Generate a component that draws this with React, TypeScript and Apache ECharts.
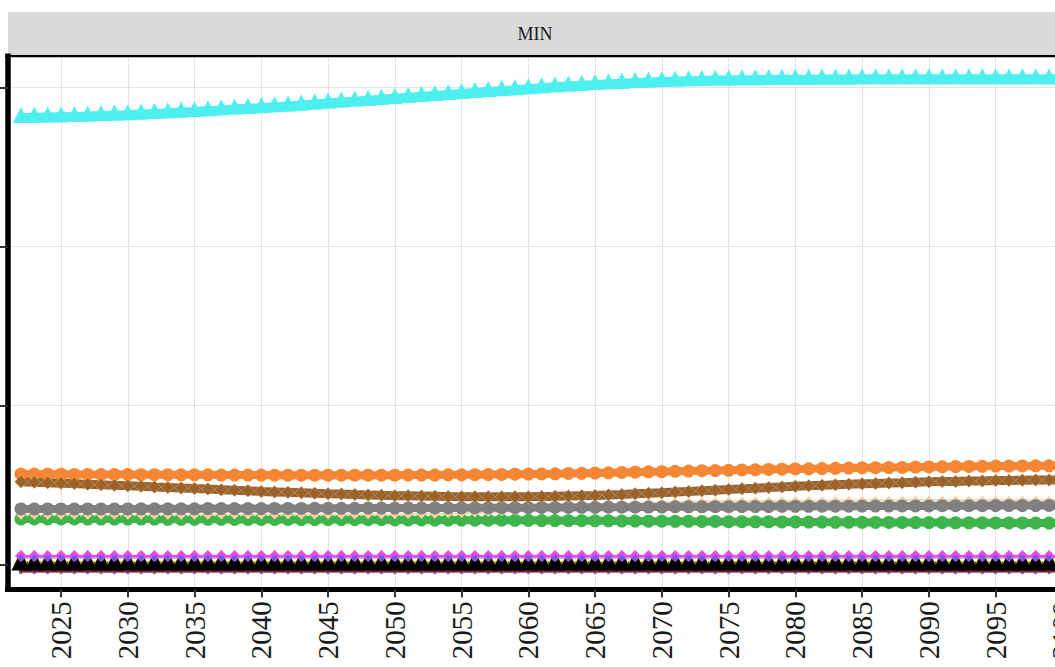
import React, { useEffect, useRef } from "react";
import * as echarts from "echarts";

const years = [
  2022, 2023, 2024, 2025, 2026, 2027, 2028, 2029, 2030, 2031,
  2032, 2033, 2034, 2035, 2036, 2037, 2038, 2039, 2040, 2041,
  2042, 2043, 2044, 2045, 2046, 2047, 2048, 2049, 2050, 2051,
  2052, 2053, 2054, 2055, 2056, 2057, 2058, 2059, 2060, 2061,
  2062, 2063, 2064, 2065, 2066, 2067, 2068, 2069, 2070, 2071,
  2072, 2073, 2074, 2075, 2076, 2077, 2078, 2079, 2080, 2081,
  2082, 2083, 2084, 2085, 2086, 2087, 2088, 2089, 2090, 2091,
  2092, 2093, 2094, 2095, 2096, 2097, 2098, 2099, 2100,
];

const xTicks = [2025, 2030, 2035, 2040, 2045, 2050, 2055, 2060, 2065, 2070, 2075, 2080, 2085, 2090, 2095, 2100];
const yTicks = [0, 10, 20, 30];
const stripLabel = "MIN";

const cyan = [
  28.07, 28.08, 28.10, 28.12, 28.14, 28.16, 28.19, 28.22, 28.25, 28.29,
  28.33, 28.37, 28.41, 28.45, 28.50, 28.55, 28.60, 28.65, 28.70, 28.75,
  28.80, 28.86, 28.92, 28.98, 29.04, 29.10, 29.16, 29.22, 29.28, 29.34,
  29.40, 29.46, 29.52, 29.58, 29.64, 29.70, 29.76, 29.82, 29.88, 29.94,
  30.00, 30.05, 30.10, 30.15, 30.19, 30.23, 30.27, 30.30, 30.33, 30.36,
  30.38, 30.40, 30.42, 30.43, 30.44, 30.45, 30.46, 30.47, 30.48, 30.48,
  30.49, 30.49, 30.49, 30.50, 30.50, 30.50, 30.50, 30.50, 30.50, 30.50,
  30.50, 30.50, 30.50, 30.50, 30.50, 30.50, 30.50, 30.50, 30.50,
];

const orange = [
  5.69, 5.69, 5.68, 5.68, 5.67, 5.67, 5.66, 5.66, 5.66, 5.65,
  5.65, 5.65, 5.64, 5.64, 5.64, 5.63, 5.63, 5.63, 5.63, 5.62,
  5.62, 5.62, 5.62, 5.62, 5.62, 5.62, 5.62, 5.62, 5.62, 5.63,
  5.63, 5.63, 5.64, 5.64, 5.65, 5.66, 5.67, 5.68, 5.69, 5.70,
  5.71, 5.73, 5.74, 5.75, 5.77, 5.79, 5.81, 5.83, 5.84, 5.86,
  5.88, 5.90, 5.91, 5.93, 5.95, 5.96, 5.98, 6.00, 6.01, 6.02,
  6.04, 6.05, 6.07, 6.08, 6.09, 6.10, 6.11, 6.13, 6.14, 6.15,
  6.16, 6.17, 6.18, 6.19, 6.19, 6.20, 6.21, 6.21, 6.22,
];

const brown = [
  5.21, 5.18, 5.15, 5.12, 5.09, 5.05, 5.02, 4.98, 4.95, 4.92,
  4.88, 4.85, 4.82, 4.78, 4.75, 4.71, 4.67, 4.64, 4.60, 4.57,
  4.54, 4.51, 4.48, 4.45, 4.43, 4.40, 4.38, 4.36, 4.33, 4.32,
  4.31, 4.30, 4.28, 4.27, 4.27, 4.26, 4.26, 4.27, 4.27, 4.28,
  4.29, 4.31, 4.33, 4.35, 4.38, 4.41, 4.45, 4.48, 4.52, 4.56,
  4.60, 4.64, 4.68, 4.72, 4.76, 4.80, 4.84, 4.88, 4.92, 4.95,
  4.98, 5.02, 5.05, 5.08, 5.10, 5.13, 5.15, 5.18, 5.20, 5.22,
  5.23, 5.25, 5.26, 5.28, 5.29, 5.30, 5.31, 5.32, 5.33,
];

const gray = [
  3.50, 3.50, 3.50, 3.50, 3.50, 3.50, 3.50, 3.50, 3.50, 3.51,
  3.51, 3.51, 3.51, 3.51, 3.52, 3.52, 3.52, 3.52, 3.52, 3.53,
  3.53, 3.53, 3.54, 3.54, 3.54, 3.54, 3.55, 3.55, 3.55, 3.56,
  3.56, 3.56, 3.56, 3.57, 3.57, 3.57, 3.58, 3.58, 3.58, 3.59,
  3.59, 3.59, 3.60, 3.60, 3.61, 3.61, 3.61, 3.62, 3.62, 3.63,
  3.63, 3.63, 3.64, 3.64, 3.65, 3.65, 3.65, 3.66, 3.66, 3.66,
  3.67, 3.67, 3.67, 3.68, 3.68, 3.68, 3.69, 3.69, 3.69, 3.70,
  3.70, 3.70, 3.70, 3.71, 3.71, 3.71, 3.71, 3.72, 3.72,
];

const green = [
  2.87, 2.87, 2.87, 2.87, 2.87, 2.86, 2.86, 2.86, 2.86, 2.86,
  2.86, 2.85, 2.85, 2.85, 2.85, 2.85, 2.84, 2.84, 2.84, 2.84,
  2.84, 2.83, 2.83, 2.83, 2.83, 2.82, 2.82, 2.82, 2.81, 2.81,
  2.81, 2.80, 2.80, 2.80, 2.79, 2.79, 2.79, 2.78, 2.78, 2.77,
  2.77, 2.76, 2.76, 2.75, 2.75, 2.74, 2.74, 2.73, 2.73, 2.72,
  2.72, 2.71, 2.71, 2.70, 2.70, 2.69, 2.69, 2.68, 2.68, 2.67,
  2.67, 2.66, 2.66, 2.66, 2.65, 2.65, 2.65, 2.64, 2.64, 2.64,
  2.63, 2.63, 2.63, 2.62, 2.62, 2.62, 2.61, 2.61, 2.61,
];

const peach = [
  3.10, 3.10, 3.10, 3.10, 3.10, 3.10, 3.10, 3.10, 3.10, 3.10,
  3.10, 3.10, 3.10, 3.10, 3.10, 3.11, 3.11, 3.11, 3.11, 3.11,
  3.11, 3.11, 3.12, 3.12, 3.12, 3.12, 3.13, 3.13, 3.14, 3.15,
  3.16, 3.17, 3.19, 3.21, 3.24, 3.28, 3.32, 3.37, 3.43, 3.49,
  3.55, 3.61, 3.67, 3.72, 3.77, 3.81, 3.85, 3.88, 3.91, 3.93,
  3.95, 3.96, 3.97, 3.98, 3.99, 4.00, 4.00, 4.01, 4.01, 4.02,
  4.02, 4.02, 4.03, 4.03, 4.03, 4.03, 4.04, 4.04, 4.04, 4.04,
  4.04, 4.05, 4.05, 4.05, 4.05, 4.05, 4.05, 4.05, 4.05,
];

const magenta = [
  0.54, 0.54, 0.54, 0.54, 0.54, 0.54, 0.54, 0.54, 0.54, 0.54,
  0.54, 0.54, 0.54, 0.54, 0.54, 0.54, 0.54, 0.54, 0.54, 0.54,
  0.54, 0.54, 0.54, 0.54, 0.54, 0.54, 0.54, 0.54, 0.54, 0.54,
  0.54, 0.54, 0.54, 0.54, 0.54, 0.54, 0.54, 0.54, 0.54, 0.54,
  0.54, 0.54, 0.54, 0.54, 0.54, 0.54, 0.54, 0.54, 0.54, 0.54,
  0.54, 0.54, 0.54, 0.54, 0.54, 0.54, 0.54, 0.54, 0.54, 0.54,
  0.54, 0.54, 0.54, 0.54, 0.54, 0.54, 0.54, 0.54, 0.54, 0.54,
  0.54, 0.54, 0.54, 0.54, 0.54, 0.54, 0.54, 0.54, 0.54,
];

const slate = [
  0.42, 0.42, 0.42, 0.42, 0.42, 0.42, 0.42, 0.42, 0.42, 0.42,
  0.42, 0.42, 0.42, 0.42, 0.42, 0.42, 0.42, 0.42, 0.42, 0.42,
  0.42, 0.42, 0.42, 0.42, 0.42, 0.42, 0.42, 0.42, 0.42, 0.42,
  0.42, 0.42, 0.42, 0.42, 0.42, 0.42, 0.42, 0.42, 0.42, 0.42,
  0.42, 0.42, 0.42, 0.42, 0.42, 0.42, 0.42, 0.42, 0.42, 0.42,
  0.42, 0.42, 0.42, 0.42, 0.42, 0.42, 0.42, 0.42, 0.42, 0.42,
  0.42, 0.42, 0.42, 0.42, 0.42, 0.42, 0.42, 0.42, 0.42, 0.42,
  0.42, 0.42, 0.42, 0.42, 0.42, 0.42, 0.42, 0.42, 0.42,
];

const yellow = [
  0.15, 0.15, 0.15, 0.15, 0.15, 0.15, 0.15, 0.15, 0.15, 0.15,
  0.15, 0.15, 0.15, 0.15, 0.15, 0.15, 0.15, 0.15, 0.15, 0.15,
  0.15, 0.15, 0.15, 0.15, 0.15, 0.15, 0.15, 0.15, 0.15, 0.15,
  0.15, 0.15, 0.15, 0.15, 0.15, 0.15, 0.15, 0.15, 0.15, 0.15,
  0.15, 0.15, 0.15, 0.15, 0.15, 0.15, 0.15, 0.15, 0.15, 0.15,
  0.15, 0.15, 0.15, 0.15, 0.15, 0.15, 0.15, 0.15, 0.15, 0.15,
  0.15, 0.15, 0.15, 0.15, 0.15, 0.15, 0.15, 0.15, 0.15, 0.15,
  0.15, 0.15, 0.15, 0.15, 0.15, 0.15, 0.15, 0.15, 0.15,
];

const black = [
  0.0, 0.0, 0.0, 0.0, 0.0, 0.0, 0.0, 0.0, 0.0, 0.0,
  0.0, 0.0, 0.0, 0.0, 0.0, 0.0, 0.0, 0.0, 0.0, 0.0,
  0.0, 0.0, 0.0, 0.0, 0.0, 0.0, 0.0, 0.0, 0.0, 0.0,
  0.0, 0.0, 0.0, 0.0, 0.0, 0.0, 0.0, 0.0, 0.0, 0.0,
  0.0, 0.0, 0.0, 0.0, 0.0, 0.0, 0.0, 0.0, 0.0, 0.0,
  0.0, 0.0, 0.0, 0.0, 0.0, 0.0, 0.0, 0.0, 0.0, 0.0,
  0.0, 0.0, 0.0, 0.0, 0.0, 0.0, 0.0, 0.0, 0.0, 0.0,
  0.0, 0.0, 0.0, 0.0, 0.0, 0.0, 0.0, 0.0, 0.0,
];

const darkred = [
  -0.38, -0.38, -0.38, -0.38, -0.38, -0.38, -0.38, -0.38, -0.38, -0.38,
  -0.38, -0.38, -0.38, -0.38, -0.38, -0.38, -0.38, -0.38, -0.38, -0.38,
  -0.38, -0.38, -0.38, -0.38, -0.38, -0.38, -0.38, -0.38, -0.38, -0.38,
  -0.38, -0.38, -0.38, -0.38, -0.38, -0.38, -0.38, -0.38, -0.38, -0.38,
  -0.38, -0.38, -0.38, -0.38, -0.38, -0.38, -0.38, -0.38, -0.38, -0.38,
  -0.38, -0.38, -0.38, -0.38, -0.38, -0.38, -0.38, -0.38, -0.38, -0.38,
  -0.38, -0.38, -0.38, -0.38, -0.38, -0.38, -0.38, -0.38, -0.38, -0.38,
  -0.38, -0.38, -0.38, -0.38, -0.38, -0.38, -0.38, -0.38, -0.38,
];

const purple = [
  -0.48, -0.48, -0.48, -0.48, -0.48, -0.48, -0.48, -0.48, -0.48, -0.48,
  -0.48, -0.48, -0.48, -0.48, -0.48, -0.48, -0.48, -0.48, -0.48, -0.48,
  -0.48, -0.48, -0.48, -0.48, -0.48, -0.48, -0.48, -0.48, -0.48, -0.48,
  -0.48, -0.48, -0.48, -0.48, -0.48, -0.48, -0.48, -0.48, -0.48, -0.48,
  -0.48, -0.48, -0.48, -0.48, -0.48, -0.48, -0.48, -0.48, -0.48, -0.48,
  -0.48, -0.48, -0.48, -0.48, -0.48, -0.48, -0.48, -0.48, -0.48, -0.48,
  -0.48, -0.48, -0.48, -0.48, -0.48, -0.48, -0.48, -0.48, -0.48, -0.48,
  -0.48, -0.48, -0.48, -0.48, -0.48, -0.48, -0.48, -0.48, -0.48,
];

const pair = (vals: number[]) => years.map((y, i) => [y, vals[i]]);

const SERIF = "Liberation Serif";

function lineSeries(
  name: string,
  vals: number[],
  color: string,
  width: number,
  symbol: string,
  size: number,
  extra: Record<string, unknown> = {}
) {
  return {
    name,
    type: "line",
    data: pair(vals),
    showSymbol: true,
    showAllSymbol: true,
    symbol,
    symbolSize: size,
    lineStyle: { color, width },
    itemStyle: { color, opacity: 1 },
    emphasis: { disabled: true },
    silent: true,
    clip: false,
    ...extra,
  };
}

export default function App() {
  const ref = useRef<HTMLDivElement>(null);

  useEffect(() => {
    if (!ref.current) return;
    const chart = echarts.init(ref.current, null, { renderer: "svg" });
    chart.setOption({
      animation: false,
      backgroundColor: "#ffffff",
      textStyle: { fontFamily: SERIF },
      grid: { left: 7.6, right: 17.6, top: 56.2, bottom: 77.8, containLabel: false },
      xAxis: {
        type: "value",
        min: 2021,
        max: 2100,
        axisLine: { show: true, onZero: false, lineStyle: { color: "#000", width: 5, cap: "square" } },
        axisTick: { show: true, customValues: xTicks, length: 8, lineStyle: { color: "#333", width: 2 } },
        axisLabel: {
          show: true,
          customValues: xTicks,
          rotate: 90,
          margin: 12,
          fontSize: 29,
          fontFamily: SERIF,
          color: "#1a1a1a",
          formatter: (v: number) => String(Math.round(v)),
        },
        splitLine: { show: true, lineStyle: { color: "#c8c8c8", type: "dotted", width: 1 } },
      },
      yAxis: {
        type: "value",
        min: -1.546,
        max: 31.955,
        axisLine: { show: true, onZero: false, lineStyle: { color: "#000", width: 5.5, cap: "square" } },
        axisTick: { show: true, customValues: yTicks, length: 8, lineStyle: { color: "#333", width: 2 } },
        axisLabel: { show: false, customValues: yTicks },
        splitLine: { show: true, lineStyle: { color: "#c8c8c8", type: "dotted", width: 1 } },
      },
      graphic: [
        { type: "rect", shape: { x: 8, y: 12, width: 1100, height: 43 }, style: { fill: "#D9D9D9" }, silent: true },
        { type: "rect", shape: { x: 5, y: 55, width: 1100, height: 2.3 }, style: { fill: "#000" }, silent: true, z: 10 },
        {
          type: "text",
          x: 535,
          y: 34,
          style: {
            text: stripLabel,
            fontSize: 18,
            fontFamily: SERIF,
            fill: "#1a1a1a",
            align: "center",
            verticalAlign: "middle",
          },
          silent: true,
        },
      ],
      series: [
        lineSeries("green", green, "#3DB54A", 8, "circle", 13),
        lineSeries("peach", peach, "#FBD0A5", 2, "diamond", 9),
        lineSeries("gray", gray, "#808080", 8, "circle", 13),
        lineSeries("orange", orange, "#F58634", 8, "circle", 13),
        lineSeries("brown", brown, "#9A6229", 9, "diamond", 13, {
          itemStyle: { color: "#9A6229", borderColor: "rgba(255,255,255,0.45)", borderWidth: 0.6 },
        }),
        lineSeries("cyan", cyan, "#4DEFEF", 10, "triangle", 16, { symbolOffset: [0, -3] }),
        lineSeries("purple", purple, "#8A70E0", 1, "circle", 4),
        lineSeries("darkred", darkred, "#7F2A0A", 3, "circle", 4),
        lineSeries("yellow", yellow, "#F7D417", 2, "triangle", 14, { symbolOffset: [0, -5] }),
        lineSeries("black", black, "#000000", 5, "triangle", 19, { symbolOffset: [0, -3.5] }),
        lineSeries("magenta", magenta, "#EE45EE", 2, "diamond", 12),
        lineSeries("slate", slate, "#6A62D8", 1, "rect", 5),
      ],
    });
    return () => chart.dispose();
  }, []);

  return (
    <div
      style={{
        position: "fixed",
        left: 0,
        top: 0,
        width: 1055,
        height: 667,
        overflow: "hidden",
        background: "#fff",
      }}
    >
      <div ref={ref} style={{ width: 1080, height: 667 }} />
    </div>
  );
}
